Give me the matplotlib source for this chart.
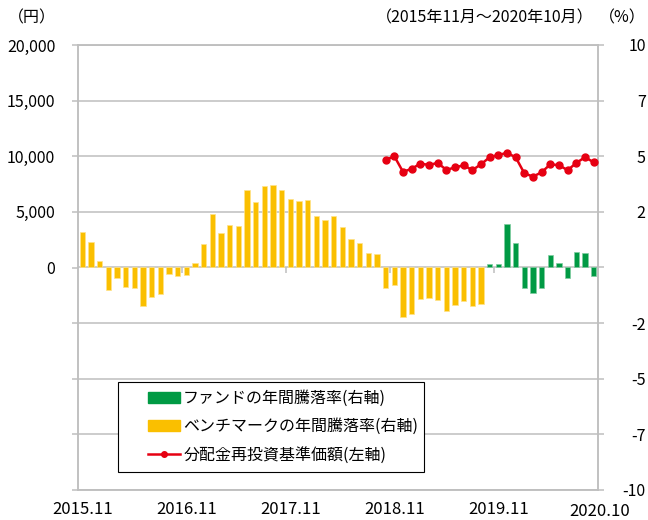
import matplotlib
matplotlib.use('Agg')
import matplotlib.pyplot as plt
import matplotlib.transforms as mtransforms
from matplotlib.patches import Rectangle, Patch
from matplotlib.lines import Line2D
import numpy as np
import pandas as pd

plt.rcParams['font.family'] = ['Noto Sans CJK JP', 'DejaVu Sans']

# 月次カテゴリ（2015.11〜2020.10）
months = list(pd.period_range('2015-11', '2020-10', freq='M').strftime('%Y.%m'))

# ベンチマークの年間騰落率（%）: 2015.11〜2019.09
bench_start = '2015.11'
bench = [1.58, 1.13, 0.30, -0.99, -0.47, -0.87, -0.90, -1.71, -1.34, -1.20,
         -0.30, -0.38, -0.32, 0.21, 1.04, 2.39, 1.53, 1.91, 1.87, 3.47,
         2.93, 3.68, 3.71, 3.48, 3.09, 3.00, 3.03, 2.33, 2.12, 2.30,
         1.80, 1.29, 1.09, 0.64, 0.59, -0.92, -0.78, -2.24, -2.09, -1.43,
         -1.37, -1.45, -1.94, -1.70, -1.52, -1.72, -1.62]

# ファンドの年間騰落率（%）: 2019.10〜2020.10
fund_start = '2019.10'
fund = [0.17, 0.17, 1.94, 1.08, -0.93, -1.14, -0.92, 0.55, 0.21, -0.48,
        0.69, 0.66, -0.39]

# 分配金再投資基準価額（円）: 2018.10〜2020.10
nav_start = '2018.10'
nav = [9680, 10000, 8600, 8870, 9340, 9220, 9400, 8780, 8990, 9190,
       8750, 9280, 9910, 10120, 10300, 9910, 8470, 8170, 8560, 9280,
       9190, 8750, 9400, 9910, 9460]

x_tick_labels = ['2015.11', '2016.11', '2017.11', '2018.11', '2019.11', '2020.10']
left_ticks = [-20000, -15000, -10000, -5000, 0, 5000, 10000, 15000, 20000]
left_labels = ['', '', '', '', '0', '5,000', '10,000', '15,000', '20,000']
right_ticks = [-10, -7.5, -5, -2.5, 0, 2.5, 5, 7.5, 10]
right_labels = ['-10', '-7', '-5', '-2', '', '2', '5', '7', '10']

legend_labels = ['ファンドの年間騰落率(右軸)',
                 'ベンチマークの年間騰落率(右軸)',
                 '分配金再投資基準価額(左軸)']

GREEN = '#009A44'
YELLOW = '#FABF00'
RED = '#E60012'
GRID = '#BFBFBF'

W, H = 648, 520
fig = plt.figure(figsize=(W / 100, H / 100), dpi=100)

# 左軸（円）: 折れ線用、右軸（%）: 棒グラフ用
ax = fig.add_axes([78 / W, 1 - 490 / H, 520 / W, 445 / H])
ax2 = ax.twinx()
ax.set_zorder(ax2.get_zorder() + 1)
ax.patch.set_visible(False)

x = np.arange(len(months))
i_b = months.index(bench_start)
i_f = months.index(fund_start)
i_n = months.index(nav_start)

ax2.bar(x[i_b:i_b + len(bench)], bench, width=0.65, color=YELLOW,
        edgecolor='#FFE38A', linewidth=0.5, zorder=2)
ax2.bar(x[i_f:i_f + len(fund)], fund, width=0.65, color=GREEN,
        edgecolor='#7FCCA0', linewidth=0.5, zorder=2)
ax.plot(x[i_n:i_n + len(nav)], nav, color=RED, lw=1.8, marker='o', ms=5,
        zorder=3)

# 軸範囲・目盛
ax.set_xlim(-0.5, len(months) - 0.5)
ax.set_ylim(-20000, 20000)
ax2.set_ylim(-10, 10)

ax2.set_yticks(right_ticks)
ax2.set_yticklabels(right_labels, ha='right')
ax2.yaxis.grid(True, color=GRID, lw=1.1)
ax2.set_axisbelow(True)

ax.set_yticks(left_ticks)
ax.set_yticklabels(left_labels)

tick_idx = [months.index(m) for m in x_tick_labels]
ax.set_xticks(tick_idx)
ax.set_xticklabels(x_tick_labels, fontsize=12)
ax.tick_params(axis='x', length=0, pad=8)
ax.tick_params(axis='y', length=4.3, width=1.1, color=GRID, pad=12,
               labelsize=11.5)
ax2.tick_params(axis='y', length=4.3, width=1.1, color=GRID, pad=30,
                labelsize=11.5)

# 最後のラベルは少し右下にずらす
lbl = ax.get_xticklabels()[-1]
lbl.set_transform(lbl.get_transform() +
                  mtransforms.ScaledTranslation(6 / 100, -2 / 100, fig.dpi_scale_trans))

# ゼロ線上の年区切り目盛
ax2.vlines([11.5, 23.5, 35.5, 47.5], 0, -0.25, color=GRID, lw=1.1, zorder=1)

for a in (ax, ax2):
    for s in a.spines.values():
        s.set_color(GRID)
        s.set_linewidth(1.1)

# 見出し
fig.text(8 / W, 1 - 18 / H, '（円）', fontsize=11.5, va='center', ha='left')
fig.text(594 / W, 1 - 18 / H, '（2015年11月～2020年10月）', fontsize=11.5,
         va='center', ha='right')
fig.text(646 / W, 1 - 18 / H, '（%）', fontsize=11.5, va='center', ha='right')

# 凡例
box = Rectangle((118 / W, 1 - 472 / H), 306 / W, 90 / H, transform=fig.transFigure,
                facecolor='white', edgecolor='black', lw=0.8, zorder=5)
fig.add_artist(box)
handles = [Patch(color=GREEN), Patch(color=YELLOW),
           Line2D([], [], color=RED, lw=1.8, marker='o', ms=4)]
leg = fig.legend(handles, legend_labels, loc='upper left',
                 bbox_to_anchor=(148 / W, 1 - 390 / H), frameon=False,
                 fontsize=11.5, borderpad=0, borderaxespad=0,
                 handlelength=2.0, handletextpad=0.2, labelspacing=0.7)
leg.set_zorder(6)

fig.savefig('out.png', dpi=100)
